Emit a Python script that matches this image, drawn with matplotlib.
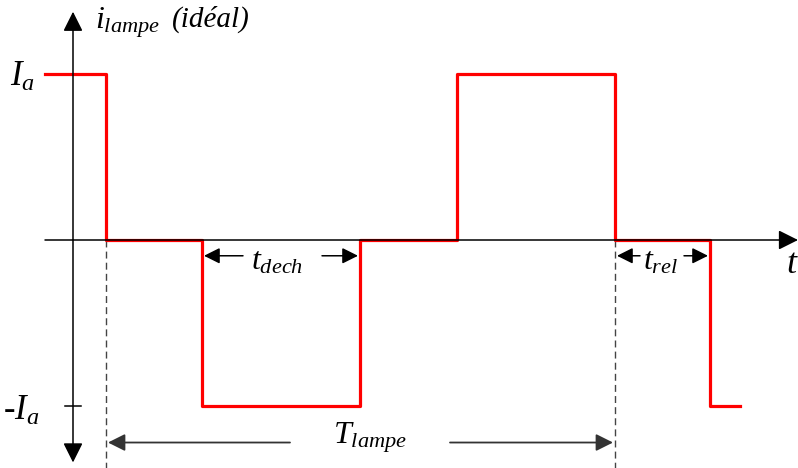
import matplotlib.pyplot as plt

plt.rcParams['mathtext.fontset'] = 'custom'
plt.rcParams['mathtext.rm'] = 'Liberation Serif'
plt.rcParams['mathtext.it'] = 'Liberation Serif:italic'
plt.rcParams['font.family'] = ['Liberation Serif', 'DejaVu Serif']

# signal (time in arbitrary units, level in units of I_a)
t_edges = [-0.28, 0.33, 1.29, 2.87, 3.84, 5.42, 6.37, 6.67]
levels = [1, 0, -1, 0, 1, 0, -1]
t_period = (0.33, 5.42)
t_dech = (1.29, 2.87)
t_rel = (5.42, 6.37)

fig = plt.figure(figsize=(7.98, 4.68), dpi=100)
ax = fig.add_axes([0, 0, 1, 1])
ax.set_xlim(-0.73, 7.25)
ax.set_ylim(-228 / 166, 240 / 166)
ax.set_axis_off()

ahead = dict(arrowstyle='-|>', color='black', lw=1.1, mutation_scale=30,
             shrinkA=0, shrinkB=0)

# axes
ax.annotate('', xy=(7.25, 0), xytext=(-0.28, 0), arrowprops=ahead)
ax.annotate('', xy=(0, 1.375), xytext=(0, 0), arrowprops=ahead)
ax.annotate('', xy=(0, -1.34), xytext=(0, 0), arrowprops=ahead)
ax.plot([-0.08, 0.08], [-1, -1], color='black', lw=1.1)

# dashed guides
for t in t_period:
    ax.plot([t, t], [0, -1.4], color='#444444', lw=1, ls=(0, (5, 3)))

# waveform
ax.step(t_edges, levels + [levels[-1]], where='post', color='#ff0000', lw=2.3)

# dimension arrows
small = dict(arrowstyle='-|>', color='black', lw=1.1, mutation_scale=24,
             shrinkA=0, shrinkB=0)
yd = -0.095
ax.annotate('', xy=(t_dech[0] + 0.02, yd), xytext=(t_dech[0] + 0.41, yd), arrowprops=small)
ax.annotate('', xy=(t_dech[1] - 0.02, yd), xytext=(t_dech[1] - 0.38, yd), arrowprops=small)
ax.text((t_dech[0] + t_dech[1]) / 2 - 0.04, -0.13, r'$t_{dech}$', fontsize=23,
        ha='center', va='center')
ax.annotate('', xy=(t_rel[0] + 0.02, yd), xytext=(t_rel[0] + 0.25, yd), arrowprops=small)
ax.annotate('', xy=(t_rel[1] - 0.02, yd), xytext=(t_rel[1] - 0.26, yd), arrowprops=small)
ax.text((t_rel[0] + t_rel[1]) / 2 - 0.02, -0.13, r'$t_{rel}$', fontsize=23,
        ha='center', va='center')

big = dict(arrowstyle='-|>', color='#333333', lw=1.3, mutation_scale=26,
           shrinkA=0, shrinkB=0)
yT = -1.22
ax.annotate('', xy=(t_period[0] + 0.02, yT), xytext=(2.17, yT), arrowprops=big)
ax.annotate('', xy=(t_period[1] - 0.02, yT), xytext=(3.77, yT), arrowprops=big)
ax.text(2.97, -1.19, r'$T_{lampe}$', fontsize=23, ha='center', va='center')

# labels
ax.text(0.22, 1.31, r'$i_{lampe}$', fontsize=23, ha='left', va='center')
ax.text(0.99, 1.33, '(idéal)', fontsize=21, style='italic', ha='left', va='center')
ax.text(-0.51, 0.98, r'$I_a$', fontsize=25, ha='center', va='center')
ax.text(-0.52, -1.03, r'$\mathrm{\text{-}}I_a$', fontsize=25, ha='center', va='center')
ax.text(7.19, -0.15, r'$t$', fontsize=26, ha='center', va='center')

fig.savefig('out.png', dpi=100)
